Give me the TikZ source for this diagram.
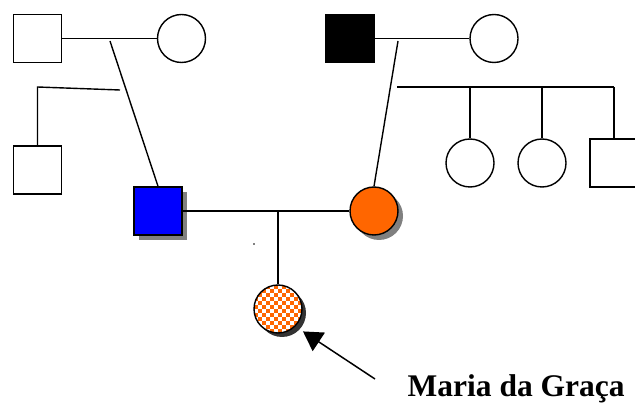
\documentclass[tikz,border=0pt]{standalone}
\usepackage{fontspec}
\setmainfont{Liberation Serif}
\usetikzlibrary{shadows,arrows.meta,calc}
\definecolor{orng}{HTML}{FF6600}
\definecolor{blu}{HTML}{0000FF}
\begin{document}
\begin{tikzpicture}[x=1pt,y=-1pt,line width=1.4pt,
  male/.style={draw,rectangle,minimum size=48pt,inner sep=0pt,fill=white},
  female/.style={draw,circle,minimum size=48pt,inner sep=0pt,fill=white},
  shad/.style={drop shadow={shadow xshift=5pt,shadow yshift=-5pt,fill=gray,opacity=1}},
  dshad/.style={drop shadow={shadow xshift=4pt,shadow yshift=-4pt,fill=black!80,opacity=1}},
  link/.style={draw,line width=1.4pt}]
\useasboundingbox (0,0) rectangle (635,403);
% top left couple
\node[male] (gf1) at (37.5,38.5) {};
\node[female] (gm1) at (181.5,38.5) {};
\node[male] (unc) at (37.5,170) {};
% top right couple
\node[male,fill=black] (gf2) at (350,38.5) {};
\node[female] (gm2) at (494,38.5) {};
\node[female] (s1) at (470,163) {};
\node[female] (s2) at (542,163) {};
\node[male] (s3) at (614,163) {};
% parents
\node[male,fill=blu,shad] (fa) at (158,211) {};
\node[female,fill=orng,shad] (mo) at (374,211) {};
% proband
\node[female,dshad,minimum size=48pt,
  path picture={
    \fill[orng] (path picture bounding box.south west) rectangle (path picture bounding box.north east);
    \foreach \i in {0,...,12}{\foreach \j in {0,...,12}{
      \pgfmathtruncatemacro{\p}{mod(\i+\j,2)}
      \ifnum\p=0 \fill[white] ($(path picture bounding box.north west)+(\i*4,\j*4)$) rectangle ++(4,4);\fi}}
  }] (me) at (278,309) {};
% connectors
\draw[link] (gf1) -- (gm1);
\coordinate (d1) at (110,41);
\draw[link] (d1) -- (fa.north);
\coordinate (b1) at (120,90);
\coordinate (b2) at (37.5,87);
\draw[link] (b1) -- (b2) -- (unc.north);
\draw[link] (gf2) -- (gm2);
\coordinate (d2) at (398,41);
\draw[link] (d2) -- (mo.north);
\coordinate (sl) at (397,87);
\coordinate (sr) at (614,87);
\draw[link] (sl) -- (sr);
\draw[link] (s1.north |- sl) -- (s1.north);
\draw[link] (s2.north |- sl) -- (s2.north);
\draw[link] (sr) -- (s3.north);
\draw[link] (fa) -- (mo);
\coordinate (c) at (278,212);
\draw[link] (c) -- (me.north);
\fill (254,244) circle (0.8pt);
% label
\node[anchor=base west,font=\bfseries\fontsize{31.5}{36}\selectfont,inner sep=0pt] (lab) at (407,397) {Maria da Graça};
\coordinate (at) at (375,379);
\draw[line width=1.5pt,shorten >=9pt,-{Triangle[length=19pt,width=22pt]}] (at) -- (me.south east);
\end{tikzpicture}
\end{document}
